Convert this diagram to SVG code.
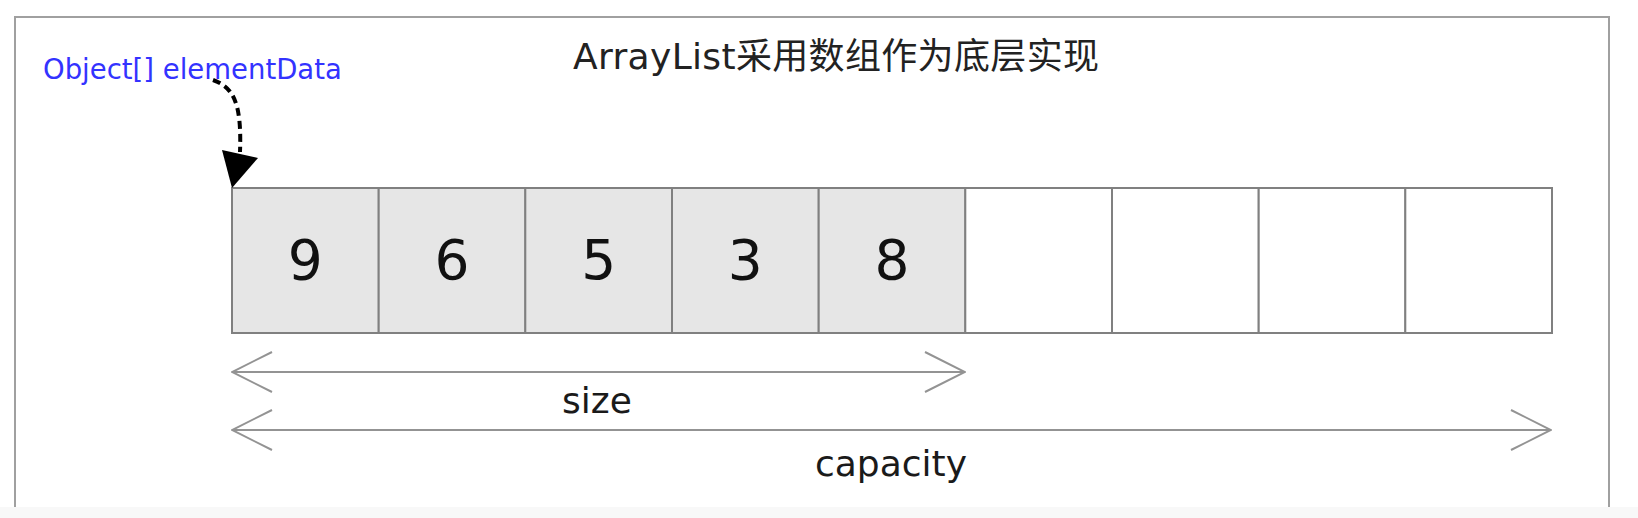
<svg xmlns="http://www.w3.org/2000/svg" width="1638" height="518" viewBox="0 0 1638 518">
<style>
  text { font-family: "DejaVu Sans", "Noto Sans CJK SC", sans-serif; }
  .frame { stroke: #a0a0a0; stroke-width: 2; fill: none; }
  .cell { stroke: #808080; stroke-width: 2; }
  .used { fill: #e6e6e6; }
  .free { fill: #ffffff; }
  .num { font-size: 55px; fill: #111111; text-anchor: middle; }
  .dim { stroke: #939393; stroke-width: 2; fill: none; }
  .lbl { font-size: 36px; fill: #1a1a1a; text-anchor: middle; }
</style>
<defs>
  <marker id="open" viewBox="0 0 42 42" refX="41" refY="21" markerWidth="42" markerHeight="42" markerUnits="userSpaceOnUse" orient="auto-start-reverse">
    <path d="M1,1 L41,21 L1,41" fill="none" stroke="#939393" stroke-width="2"/>
  </marker>
</defs>
<rect x="0" y="0" width="1638" height="518" fill="#ffffff"/>
<rect x="0" y="507" width="1638" height="11" fill="#f8f8f8"/>
<g id="frame">
  <path class="frame" d="M15,507 L15,17 L1609,17 L1609,507"/>
</g>
<g id="title">
  <text x="573" y="69" font-size="36" fill="#222222" textLength="526" lengthAdjust="spacing">ArrayList采用数组作为底层实现</text>
</g>
<g id="elementData">
  <text x="43" y="79" font-size="27.5" fill="#3333ff">Object[] elementData</text>
</g>
<g id="cells">
  <g id="cell0"><rect class="cell used" x="232" y="188" width="146.7" height="145"/><text class="num" x="305.3" y="279">9</text></g>
  <g id="cell1"><rect class="cell used" x="378.7" y="188" width="146.7" height="145"/><text class="num" x="452" y="279">6</text></g>
  <g id="cell2"><rect class="cell used" x="525.3" y="188" width="146.7" height="145"/><text class="num" x="598.7" y="279">5</text></g>
  <g id="cell3"><rect class="cell used" x="672" y="188" width="146.7" height="145"/><text class="num" x="745.3" y="279">3</text></g>
  <g id="cell4"><rect class="cell used" x="818.7" y="188" width="146.7" height="145"/><text class="num" x="892" y="279">8</text></g>
  <g id="cell5"><rect class="cell free" x="965.3" y="188" width="146.7" height="145"/></g>
  <g id="cell6"><rect class="cell free" x="1112" y="188" width="146.7" height="145"/></g>
  <g id="cell7"><rect class="cell free" x="1258.7" y="188" width="146.7" height="145"/></g>
  <g id="cell8"><rect class="cell free" x="1405.3" y="188" width="146.7" height="145"/></g>
</g>
<g id="connectors">
  <path d="M213,80 C232,87 242,100 240,152" fill="none" stroke="#000000" stroke-width="4" stroke-dasharray="8,5"/>
  <polygon points="232,188 222,150 258,158" fill="#000000"/>
  <line class="dim" x1="232" y1="372" x2="965" y2="372" marker-start="url(#open)" marker-end="url(#open)"/>
  <line class="dim" x1="232" y1="430" x2="1551" y2="430" marker-start="url(#open)" marker-end="url(#open)"/>
</g>
<g id="size">
  <text class="lbl" x="597" y="413">size</text>
</g>
<g id="capacity">
  <text class="lbl" x="891" y="476">capacity</text>
</g>
</svg>
